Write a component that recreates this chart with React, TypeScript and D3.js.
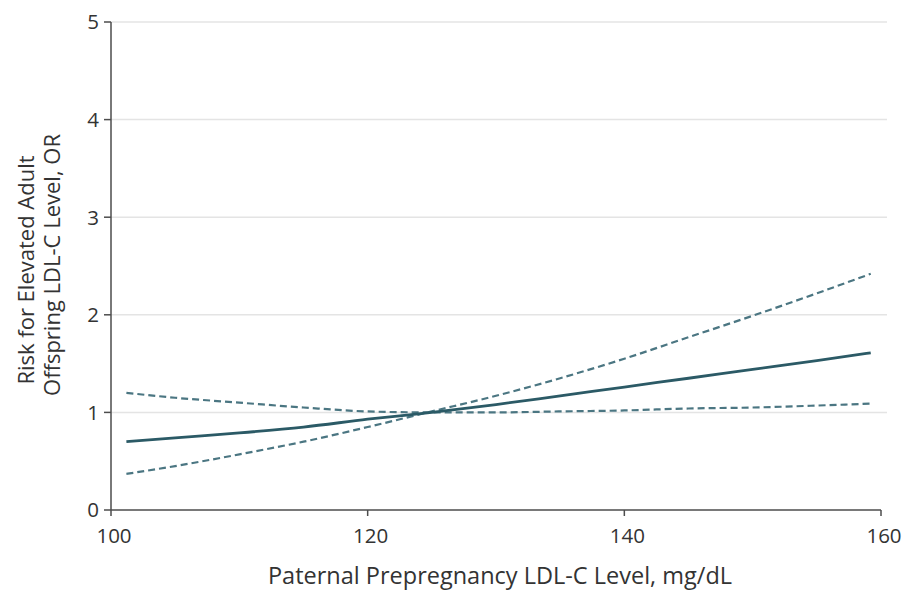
import React from 'react';
import * as d3 from 'd3';

// paternal LDL-C (mg/dL) at which the curves were read
const ldl = [101.2, 105, 110, 115, 120, 125, 130, 135, 140, 145, 150, 155, 159.2];
// odds ratio estimate
const orEstimate = [0.7, 0.74, 0.79, 0.85, 0.93, 1.0, 1.08, 1.17, 1.26, 1.35, 1.44, 1.53, 1.61];
// confidence limit that rises steeply
const ciSteep = [0.37, 0.45, 0.57, 0.7, 0.85, 1.01, 1.17, 1.35, 1.55, 1.77, 1.99, 2.22, 2.42];
// confidence limit that stays near 1
const ciFlat = [1.2, 1.15, 1.1, 1.05, 1.01, 1.0, 1.0, 1.01, 1.02, 1.04, 1.05, 1.07, 1.09];

const xTicks = [100, 120, 140, 160];
const yTicks = [0, 1, 2, 3, 4, 5];

const width = 909;
const height = 590;
const font = '"Open Sans", sans-serif';

export default function App() {
  const x = d3.scaleLinear().domain([100, 160]).range([111, 881]);
  const y = d3.scaleLinear().domain([0, 5]).range([510, 22]);

  const line = (vals: number[]) =>
    d3
      .line<number>()
      .x((d, i) => x(ldl[i]))
      .y((d) => y(d))
      .curve(d3.curveMonotoneX)(vals) as string;

  const teal = '#2b5a66';
  const tealDash = '#4b7682';
  const axisColor = '#4d4d4d';

  return (
    <svg
      width={width}
      height={height}
      style={{ position: 'absolute', left: 0, top: 0, background: '#fff' }}
    >
      {/* gridlines */}
      {yTicks
        .filter((t) => t > 0)
        .map((t) => (
          <line
            key={'g' + t}
            x1={x(100)}
            x2={887}
            y1={y(t)}
            y2={y(t)}
            stroke="#e4e4e4"
            strokeWidth={1.5}
          />
        ))}

      {/* curves */}
      <path d={line(ciSteep)} fill="none" stroke={tealDash} strokeWidth={2.2} strokeDasharray="7,4" />
      <path d={line(ciFlat)} fill="none" stroke={tealDash} strokeWidth={2.2} strokeDasharray="7,4" />
      <path d={line(orEstimate)} fill="none" stroke={teal} strokeWidth={2.8} />

      {/* y axis */}
      <line x1={x(100)} x2={x(100)} y1={y(5)} y2={y(0)} stroke={axisColor} strokeWidth={1.5} />
      {yTicks.map((t) => (
        <g key={'y' + t}>
          <line x1={x(100) - 7} x2={x(100)} y1={y(t)} y2={y(t)} stroke={axisColor} strokeWidth={1.5} />
          <text
            x={x(100) - 12}
            y={y(t)}
            dy="0.36em"
            textAnchor="end"
            fontFamily={font}
            fontSize={20.5}
            fill="#333"
          >
            {t}
          </text>
        </g>
      ))}

      {/* x axis */}
      <line x1={x(100)} x2={x(160)} y1={y(0)} y2={y(0)} stroke={axisColor} strokeWidth={1.5} />
      {xTicks.map((t) => (
        <g key={'x' + t}>
          <line x1={x(t)} x2={x(t)} y1={y(0)} y2={y(0) + 6} stroke={axisColor} strokeWidth={1.5} />
          <text
            x={x(t) + 3}
            y={543}
            textAnchor="middle"
            fontFamily={font}
            fontSize={20.5}
            fill="#333"
          >
            {t}
          </text>
        </g>
      ))}

      {/* axis titles */}
      <text x={500} y={584} textAnchor="middle" fontFamily={font} fontSize={23.5} fill="#333">
        Paternal Prepregnancy LDL-C Level, mg/dL
      </text>
      <text
        transform="translate(34,270) rotate(-90)"
        textAnchor="middle"
        fontFamily={font}
        fontSize={22}
        fill="#333"
      >
        Risk for Elevated Adult
      </text>
      <text
        transform="translate(60,265) rotate(-90)"
        textAnchor="middle"
        fontFamily={font}
        fontSize={22}
        fill="#333"
      >
        Offspring LDL-C Level, OR
      </text>
    </svg>
  );
}
